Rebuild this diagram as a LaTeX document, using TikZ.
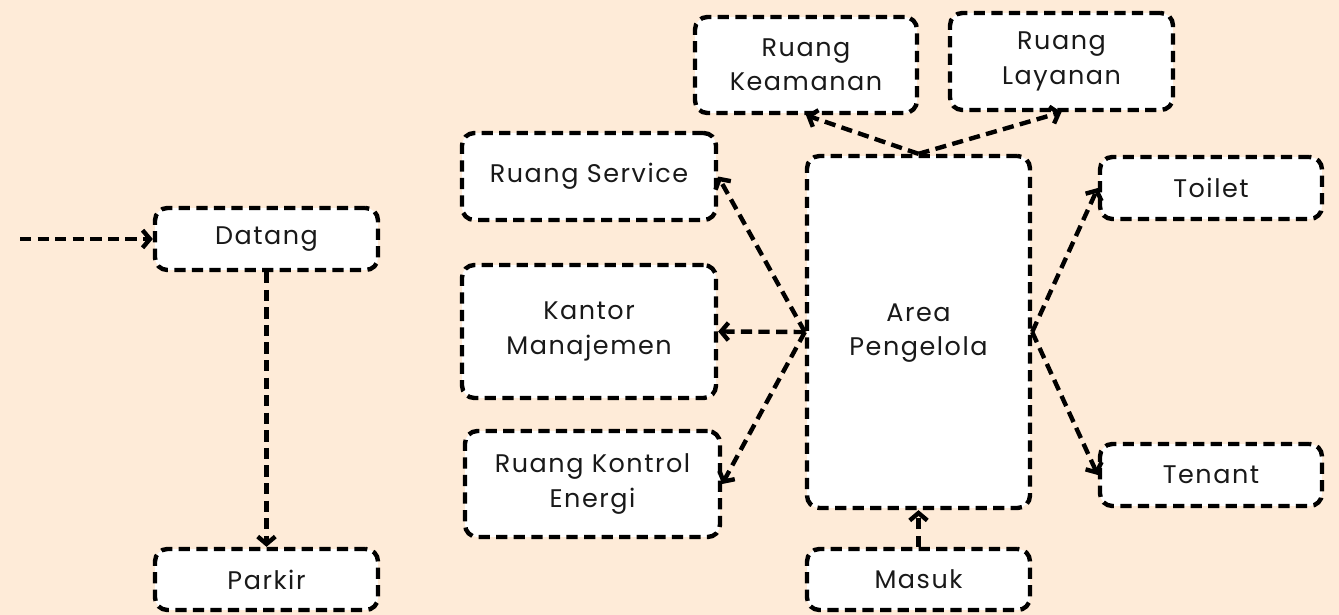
\documentclass[tikz,border=0pt]{standalone}
\usepackage{fontspec}
\setmainfont[LetterSpace=6]{Poppins}
\usetikzlibrary{arrows.meta}
\definecolor{peach}{RGB}{254,235,216}
\definecolor{ink}{RGB}{25,25,25}
\tikzset{
  flowbox/.style={draw=black, fill=white, line width=2.5pt, rounded corners=7pt,
    dash pattern=on 6.4pt off 3.6pt, align=center, text=ink,
    font=\fontsize{14.5pt}{19.5pt}\selectfont, inner sep=0pt},
  flow/.style={draw=black, line width=2.5pt, dash pattern=on 6.4pt off 3.6pt,
    -{Straight Barb[length=4.2pt,width=10pt,line width=2.5pt]}}
}
\begin{document}
\begin{tikzpicture}[x=0.02cm,y=-0.02cm]
\fill[peach] (0,0) rectangle (1339,615);
\useasboundingbox (0,0) rectangle (1339,615);

% left chain
\node[flowbox, minimum width=4.46cm, minimum height=1.24cm] (datang) at (266.5,239) {Datang};
\node[flowbox, minimum width=4.46cm, minimum height=1.22cm] (parkir) at (266.5,579.5) {Parkir};
\coordinate (start) at (20,239);

% central area and its rooms
\node[flowbox, minimum width=4.46cm, minimum height=7.04cm] (area) at (918.5,332) {\raisebox{-3pt}{\begin{tabular}{@{}c@{}}Area\\Pengelola\end{tabular}}};
\node[flowbox, minimum width=4.44cm, minimum height=1.92cm] (keamanan) at (806,65) {Ruang\\Keamanan};
\node[flowbox, minimum width=4.46cm, minimum height=1.94cm] (layanan) at (1061.5,61.5) {Ruang\\Layanan};
\node[flowbox, minimum width=5.08cm, minimum height=1.74cm] (service) at (589,176.5) {Ruang Service};
\node[flowbox, minimum width=5.08cm, minimum height=2.66cm] (kantor) at (589,331.5) {Kantor\\Manajemen};
\node[flowbox, minimum width=5.10cm, minimum height=2.12cm] (kontrol) at (592.5,484) {Ruang Kontrol\\Energi};
\node[flowbox, minimum width=4.44cm, minimum height=1.24cm] (toilet) at (1211,188) {Toilet};
\node[flowbox, minimum width=4.44cm, minimum height=1.24cm] (tenant) at (1211,475) {Tenant};
\node[flowbox, minimum width=4.46cm, minimum height=1.22cm] (masuk) at (918.5,579.5) {Masuk};

% connectors
\draw[flow] (start) -- (datang.west);
\draw[flow] (datang.south) -- (parkir.north);
\draw[flow] (area.north) -- (keamanan.south);
\draw[flow] (area.north) -- (layanan.south);
\draw[flow] (area.west) -- (service.east);
\draw[flow] (area.west) -- (kantor.east);
\draw[flow] (area.west) -- (kontrol.east);
\draw[flow] (area.east) -- (toilet.west);
\draw[flow] (area.east) -- (tenant.west);
\draw[flow] (masuk.north) -- (area.south);
\end{tikzpicture}
\end{document}
